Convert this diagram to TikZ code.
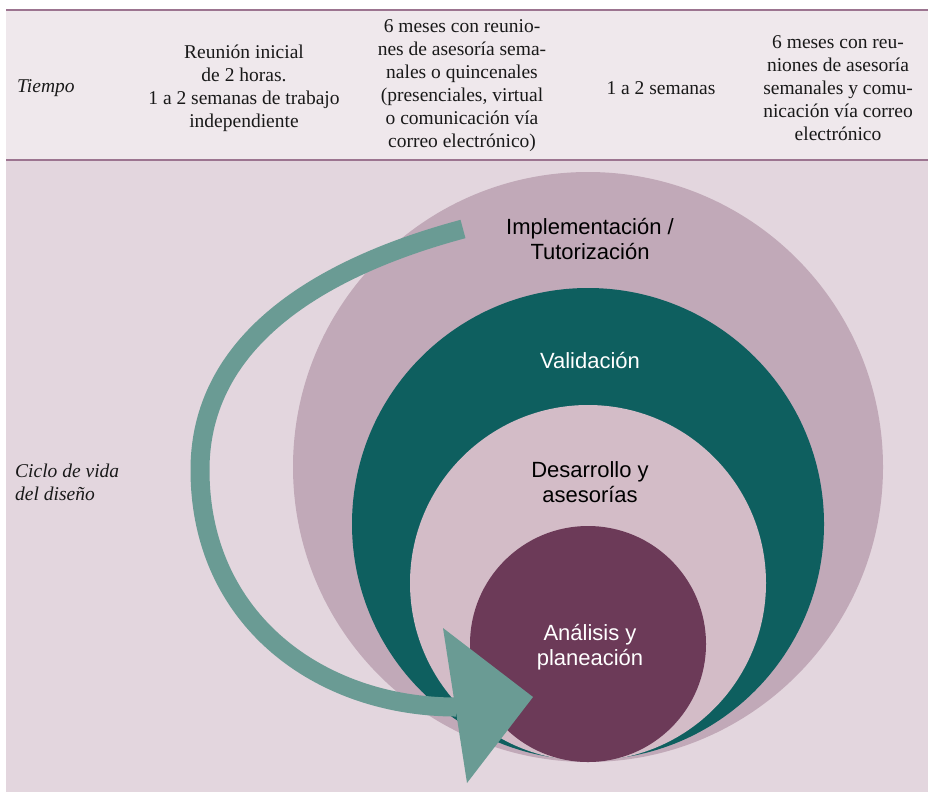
\documentclass[tikz,border=0pt]{standalone}
\usepackage{fontspec}
\setmainfont{Liberation Serif}
\setsansfont{Liberation Sans}
\usepackage{tikz}
\usetikzlibrary{positioning}
\definecolor{headbg}{HTML}{EFE8EC}
\definecolor{bodybg}{HTML}{E3D6DE}
\definecolor{rulec}{HTML}{9C7490}
\definecolor{implc}{HTML}{C1A9B8}
\definecolor{validc}{HTML}{0E5F5F}
\definecolor{desc}{HTML}{D3BCC7}
\definecolor{analc}{HTML}{6C3A58}
\definecolor{arrowc}{HTML}{6A9B94}
\tikzstyle{head} = [align=center, text=black!90, font=\fontsize{19.5}{23}\selectfont]
\tikzstyle{side} = [align=left, anchor=west, inner sep=0pt, text=black!90, font=\itshape\fontsize{19.5}{23}\selectfont]
\tikzstyle{ring} = [circle, inner sep=0pt]
\tikzstyle{phase} = [align=center, font=\sffamily\fontsize{22}{25.5}\selectfont]
\tikzstyle{band} = [line width=19pt, draw=arrowc]

\begin{document}
\begin{tikzpicture}[x=1pt, y=-1pt]

	\useasboundingbox (0,0) rectangle (928,792);
	\fill[white] (0,0) rectangle (928,792);
	\fill[headbg] (6,10) rectangle (928,160);
	\fill[bodybg] (6,160) rectangle (928,792);
	\draw[rulec, line width=1.5pt] (6,10) -- (928,10);
	\draw[rulec, line width=2.5pt] (6,160) -- (928,160);

	% header row
	\node[side] (tiempo) at (17,88) {Tiempo};
	\node[head] (inicio) at (244,88) {Reunión inicial\\de 2 horas.\\1 a 2 semanas de trabajo\\independiente};
	\node[head] (asesoria) at (462,86) {6 meses con reunio-\\nes de asesoría sema-\\nales o quincenales\\(presenciales, virtual\\o comunicación vía\\correo electrónico)};
	\node[head] (semanas) at (661,88) {1 a 2 semanas};
	\node[head] (tutoria) at (838,88) {6 meses con reu-\\niones de asesoría\\semanales y comu-\\nicación vía correo\\electrónico};

	\node[side] (ciclo) at (15,482) {Ciclo de vida\\del diseño};

	% circles
	\node[ring, fill=implc, minimum size=590pt] (impl) at (588,467) {};
	\node[ring, fill=validc, minimum size=472pt] (valid) at (588,524) {};
	\node[ring, fill=desc, minimum size=356pt] (desa) at (588,583) {};
	\node[ring, fill=analc, minimum size=236pt] (anal) at (588,644) {};

	\node[phase, text=black] (impltext) at (590,239) {Implementación /\\Tutorización};
	\node[phase, text=white] (validtext) at (590,361) {Validación};
	\node[phase, text=black] (desatext) at (590,482) {Desarrollo y\\asesorías};
	\node[phase, text=white] (analtext) at (590,647) {Análisis y\\planeación};

	% arrow
	\coordinate (bandstart) at (463,229);
	\coordinate (bandturn) at (200,470);
	\coordinate (bandend) at (456,707);
	\coordinate (tipup) at (443,628);
	\coordinate (tip) at (533,697);
	\coordinate (tiplow) at (467,783);

	\draw[band] (bandstart) .. controls (340,262) and (200,330) .. (bandturn)
		.. controls (200,620) and (320,707) .. (bandend);
	\fill[arrowc] (tipup) -- (tip) -- (tiplow) -- cycle;

\end{tikzpicture}
\end{document}
